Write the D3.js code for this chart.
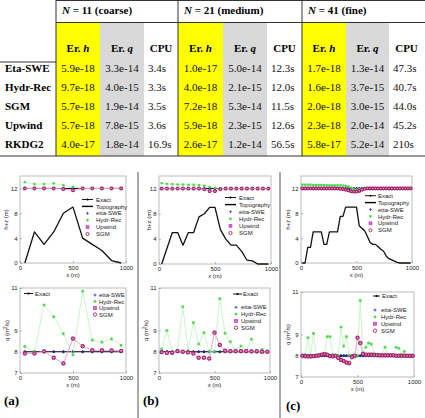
<!DOCTYPE html>
<html><head><meta charset="utf-8">
<script src="https://cdn.jsdelivr.net/npm/d3@7"></script>
<style>
html,body{margin:0;padding:0;background:#fff;}
svg{display:block;}
.serif{font-family:"Liberation Serif","Times New Roman",Times,serif;}
.sans{font-family:"Liberation Sans",Arial,Helvetica,sans-serif;}
</style>
</head><body>
<svg id="fig" width="425" height="418"></svg>
<script>
// ---------------- table data ----------------
const methods = ["Eta-SWE","Hydr-Rec","SGM","Upwind","RKDG2"];
const groupN = ["11","21","41"];
const groupName = ["(coarse)","(medium)","(fine)"];
const erH11 = ["5.9e-18","9.7e-18","5.7e-18","5.7e-18","4.0e-17"];
const erQ11 = ["3.3e-14","4.0e-15","1.9e-14","7.8e-15","1.8e-14"];
const cpu11 = ["3.4s","3.3s","3.5s","3.6s","16.9s"];
const erH21 = ["1.0e-17","4.0e-18","7.2e-18","5.9e-18","2.6e-17"];
const erQ21 = ["5.0e-14","2.1e-15","5.3e-14","2.3e-15","1.2e-14"];
const cpu21 = ["12.3s","12.0s","11.5s","12.6s","56.5s"];
const erH41 = ["1.7e-18","1.6e-18","2.0e-18","2.3e-18","5.8e-17"];
const erQ41 = ["1.3e-14","3.7e-15","3.0e-15","2.0e-14","5.2e-14"];
const cpu41 = ["47.3s","40.7s","44.0s","45.2s","210s"];

// ---------------- chart data ----------------
const xTicks = [0,500,1000];
const hTicks = [0,4,8,12];
const qTicks = [7,8,9,11];
const legendTop = ["Exact","Topography","etta-SWE","Hydr-Rec","Upwind","SGM"];
const legendBot = ["etta-SWE","Hydr-Rec","Upwind","SGM"];

// (a) N = 11
const xA = [45.5,136.4,227.3,318.2,409.1,500,590.9,681.8,772.7,863.6,954.5];
const topoA = [0,5,3,5,8,9,4,3,2,0.4,0];
const hzExactA = [12,12,12,12,12,12,12,12,12,12,12];
const hzEtaA = [12,12,12,12,12,12,12,12,12,12,12];
const hzHydrA = [13.0,12.7,12.7,12.8,12.5,12.25,12,12,12,12,12];
const hzUpA = [12,12,12,12,11.9,11.7,12,12,12,12,12];
const hzSgmA = [12,12,12,12,11.9,11.7,12,12,12,12,12];
const qExactA = [8,8,8,8,8,8,8,8,8,8,8];
const qEtaA = [8,8,8,8,8,8,8,8,8,8,8];
const qHydrA = [8.25,8.0,10.2,9.65,8.85,7.85,10.85,8.55,8.45,8.6,8.3];
const qUpA = [7.92,7.92,8.02,7.72,7.45,8.62,8.26,8.07,8.07,8.06,8.04];
const qSgmA = [7.92,7.92,8.02,7.72,7.45,8.62,8.26,8.07,8.07,8.06,8.04];

// (b) N = 21
const xB = [23.8,71.4,119.0,166.7,214.3,261.9,309.5,357.1,404.8,452.4,500.0,547.6,595.2,642.9,690.5,738.1,785.7,833.3,881.0,928.6,976.2];
const topoB = [0,2.5,5,5,3,5,5,7.5,8,9,9,5.5,4,3,3,2,0.6,0.5,0,0,0];
const hzExactB = [12,12,12,12,12,12,12,12,12,12,12,12,12,12,12,12,12,12,12,12,12];
const hzEtaB = [12,12,12,12,12,12,12,12,12,12,12,12,12,12,12,12,12,12,12,12,12];
const hzHydrB = [12.85,12.75,12.7,12.65,12.65,12.6,12.6,12.55,12.45,12.25,12.1,12,12,12,12,12,12,12,12,12,12];
const hzUpB = [12,12,12,12,12,12,12,12,11.9,11.6,11.6,11.9,12,12,12,12,12,12,12,12,12];
const hzSgmB = [12,12,12,12,12,12,12,12,11.9,11.6,11.6,11.9,12,12,12,12,12,12,12,12,12];
const qExactB = [8,8,8,8,8,8,8,8,8,8,8,8,8,8,8,8,8,8,8,8,8];
const qEtaB = [8,8,8,8,8,8,8,8,8,8,8,8,8,8,8,8,8,8,8,8,8];
const qHydrB = [8.13,9.0,8.0,8.05,10.12,8.05,9.37,8.36,8.9,8.0,8.0,10.5,8.87,8.47,8.05,8.27,8.05,8.59,8.05,8.11,8.0];
const qUpB = [7.98,7.95,7.95,8.03,8.0,7.97,7.92,7.72,7.72,7.68,8.9,8.32,8.05,8.03,8.03,8.03,8.03,8.02,8.02,8.0,8.0];
const qSgmB = [7.98,7.95,7.95,8.03,8.0,7.97,7.92,7.72,7.72,7.68,8.9,8.32,8.05,8.03,8.03,8.03,8.03,8.02,8.02,8.0,8.0];

// (c) N = 41
const xC = [12.2,36.6,61.0,85.4,109.8,134.1,158.5,182.9,207.3,231.7,256.1,280.5,304.9,329.3,353.7,378.0,402.4,426.8,451.2,475.6,500.0,524.4,548.8,573.2,597.6,622.0,646.3,670.7,695.1,719.5,743.9,768.3,792.7,817.1,841.5,865.9,890.2,914.6,939.0,963.4,987.8];
const topoC = [0,0,2.5,2.5,5,5,5,5,3,3,5,5,5,5,7.5,7.5,9,9,9,9,9,6,5.6,5.2,4.3,3.3,3,3,2.6,2.2,1.9,1.1,0.7,0.5,0.3,0.1,0,0,0,0,0];
const hzExactC = [12,12,12,12,12,12,12,12,12,12,12,12,12,12,12,12,12,12,12,12,12,12,12,12,12,12,12,12,12,12,12,12,12,12,12,12,12,12,12,12,12];
const hzEtaC = [12,12,12,12,12,12,12,12,12,12,12,12,12,12,12,12,12,12,12,12,12,12,12,12,12,12,12,12,12,12,12,12,12,12,12,12,12,12,12,12,12];
const hzHydrC = [12.6,12.6,12.6,12.6,12.55,12.55,12.55,12.55,12.55,12.5,12.5,12.5,12.5,12.5,12.5,12.45,12.4,12.3,12.1,11.9,11.8,11.9,12,12,12,12,12,12,12,12,12,12,12,12,12,12,12,12,12,12,12];
const hzUpC = [12,12,12,12,12,12,12,12,12,12,12,12,12,12,11.95,11.9,11.8,11.7,11.55,11.5,11.5,11.6,11.8,11.95,12,12,12,12,12,12,12,12,12,12,12,12,12,12,12,12,12];
const hzSgmC = [12,12,12,12,12,12,12,12,12,12,12,12,12,12,11.95,11.9,11.8,11.7,11.55,11.5,11.5,11.6,11.8,11.95,12,12,12,12,12,12,12,12,12,12,12,12,12,12,12,12,12];
const qExactC = [8,8,8,8,8,8,8,8,8,8,8,8,8,8,8,8,8,8,8,8,8,8,8,8,8,8,8,8,8,8,8,8,8,8,8,8,8,8,8,8,8];
const qEtaC = [8,8,8,8,8,8,8,8,8,8,8,8,8,8,8,8,8,8,8,8,8,8,8,8,8,8,8,8,8,8,8,8,8,8,8,8,8,8,8,8,8];
const qHydrC = [8.0,8.05,8.85,8.0,9.05,8.0,8.0,8.05,8.1,8.9,8.9,8.05,8.0,8.0,9.35,8.45,8.9,8.0,7.9,7.95,8.0,10.6,8.15,8.4,8.6,8.55,8.1,8.05,8.05,8.05,8.4,8.0,8.05,8.0,8.4,8.35,8.05,8.2,8.0,8.0,8.0];
const qUpC = [8.0,7.98,7.97,7.97,7.98,8.0,8.02,8.05,8.08,8.05,7.98,7.97,8.0,7.9,7.8,7.75,7.68,7.65,7.95,8.0,8.85,8.6,8.08,8.05,8.05,8.05,8.03,8.03,8.02,8.02,8.02,8.02,8.02,8.02,8.0,8.0,8.0,8.0,8.0,8.0,8.0];
const qSgmC = [8.0,7.98,7.97,7.97,7.98,8.0,8.02,8.05,8.08,8.05,7.98,7.97,8.0,7.9,7.8,7.75,7.68,7.65,7.95,8.0,8.85,8.6,8.08,8.05,8.05,8.05,8.03,8.03,8.02,8.02,8.02,8.02,8.02,8.02,8.0,8.0,8.0,8.0,8.0,8.0,8.0];

// ---------------- drawing ----------------
const svg = d3.select("#fig");

// ---- table ----
const colL = [56,100,144,178,223,267,302,346,389,424];
const rowY = [68,87,106,125,144];
const tTop = 0.5, tHead = 22.5, tBody = 62, tBot = 156;
const groupVals = [[erH11,erQ11,cpu11],[erH21,erQ21,cpu21],[erH41,erQ41,cpu41]];
const T = svg.append("g");
const stxt = (x, y) => T.append("text").attr("class", "serif").attr("x", x).attr("y", y).attr("font-size", 11);
groupVals.forEach((gv, gi) => {
  const l = colL[gi*3];
  T.append("rect").attr("x", l).attr("y", tHead).attr("width", colL[gi*3+1]-l).attr("height", tBot-tHead).attr("fill", "#ffff00");
  T.append("rect").attr("x", colL[gi*3+1]).attr("y", tHead).attr("width", colL[gi*3+2]-colL[gi*3+1]).attr("height", tBot-tHead).attr("fill", "#d9d9d9");
  const hd = stxt(l+6, 14).attr("font-weight", "bold");
  hd.append("tspan").attr("font-style", "italic").text("N");
  hd.append("tspan").text(" = " + groupN[gi] + " " + groupName[gi]);
  const heads = [["Er. ","h"],["Er. ","q"],["CPU",""]];
  heads.forEach((h, ci) => {
    const cx = (colL[gi*3+ci] + colL[gi*3+ci+1]) / 2;
    const t = stxt(cx, 52).attr("text-anchor", "middle").attr("font-weight", "bold");
    t.append("tspan").text(h[0]);
    if (h[1]) t.append("tspan").attr("font-style", "italic").text(h[1]);
  });
  gv.forEach((vals, ci) => {
    vals.forEach((v, ri) => {
      const t = stxt(0, rowY[ri]+4).attr("fill", "#111").text(v);
      if (ci < 2) t.attr("x", (colL[gi*3+ci] + colL[gi*3+ci+1]) / 2).attr("text-anchor", "middle");
      else t.attr("x", colL[gi*3+ci] + 4);
    });
  });
});
methods.forEach((m, ri) => stxt(5, rowY[ri]+4).attr("font-weight", "bold").text(m));
const tl = (x1,y1,x2,y2) => T.append("line").attr("x1",x1).attr("y1",y1).attr("x2",x2).attr("y2",y2).attr("stroke","#333").attr("stroke-width",1);
tl(56, tTop, 425, tTop);
tl(56, tHead, 425, tHead);
tl(0, tBody, 56, tBody);
tl(0, tBot, 425, tBot);
[56,178,302].forEach(x => tl(x, 0, x, tBot));

// ---- chart helpers ----
function symPath(kind, s) {
  if (kind === "plus") return `M${-s},0H${s}M0,${-s}V${s}`;
  if (kind === "star") { const d = s*0.72; return `M${-s},0H${s}M0,${-s}V${s}M${-d},${-d}L${d},${d}M${-d},${d}L${d},${-d}`; }
  if (kind === "square") return `M${-s},${-s}H${s}V${s}H${-s}Z`;
  return d3.symbol().type(d3.symbolCircle).size(Math.PI*s*s)();
}
const STY = {
  "Exact":    {kind:"dot"},
  "etta-SWE": {kind:"plus", stroke:"#3030c8", fill:"none", line:null},
  "Hydr-Rec": {kind:"star", stroke:"#3cd43c", fill:"none", line:"#b4efb4", lw:0.7},
  "Upwind":   {kind:"square", stroke:"#c23ac2", fill:"#d070d0", line:"#eab0e6", lw:0.7},
  "SGM":      {kind:"circle", stroke:"#94163e", fill:"none", line:"#e4a0c0", lw:0.7}
};

function drawMarker(g, name, cx, cy, s) {
  const st = STY[name];
  if (st.kind === "dot") {
    g.append("circle").attr("cx", cx).attr("cy", cy).attr("r", s*0.7).attr("fill", "#000");
  } else {
    g.append("path").attr("d", symPath(st.kind, s)).attr("transform", `translate(${cx},${cy})`)
      .attr("fill", st.fill).attr("stroke", st.stroke).attr("stroke-width", 0.8);
  }
}

function drawSeries(g, x, y, xs, ys, name, s) {
  const st = STY[name];
  const pts = xs.map((v, i) => [x(v), y(ys[i])]);
  if (st.line) g.append("path").attr("d", d3.line()(pts)).attr("fill", "none").attr("stroke", st.line).attr("stroke-width", st.lw);
  pts.forEach(p => drawMarker(g, name, p[0], p[1], s));
}

function frame(box, yDom, yTicks, ylab, ylabX, isQ) {
  const x = d3.scaleLinear().domain([0,1000]).range([box.x0, box.x1]);
  const y = d3.scaleLinear().domain(yDom).range([box.yb, box.yt]);
  const g = svg.append("g");
  g.append("rect").attr("x", box.x0).attr("y", box.yt).attr("width", box.x1-box.x0).attr("height", box.yb-box.yt)
    .attr("fill", "none").attr("stroke", "#a0a0a0").attr("stroke-width", 0.7);
  const xa = g.append("g").attr("transform", `translate(0,${box.yb})`)
    .call(d3.axisBottom(x).tickValues(xTicks).tickFormat(d3.format("d")).tickSizeInner(-2).tickSizeOuter(0).tickPadding(2.5));
  const ya = g.append("g").attr("transform", `translate(${box.x0},0)`)
    .call(d3.axisLeft(y).tickValues(yTicks).tickFormat(d3.format("d")).tickSizeInner(-2).tickSizeOuter(0).tickPadding(2.5));
  [xa, ya].forEach(a => {
    a.select(".domain").remove();
    a.selectAll(".tick line").attr("stroke", "#888").attr("stroke-width", 0.6);
    a.selectAll("text").attr("class", "sans").attr("font-family", null).attr("font-size", 6).attr("fill", "#222");
  });
  g.append("text").attr("class", "sans").attr("x", (box.x0+box.x1)/2).attr("y", box.yb+14).attr("text-anchor", "middle")
    .attr("font-size", 6).attr("fill", "#222").text("x (m)");
  const yl = g.append("text").attr("class", "sans").attr("transform", `translate(${ylabX},${(box.yt+box.yb)/2}) rotate(-90)`)
    .attr("text-anchor", "middle").attr("font-size", 6).attr("fill", "#222");
  if (isQ) {
    yl.append("tspan").text("q (m");
    yl.append("tspan").attr("dy", -2.5).attr("font-size", 4.5).text("2");
    yl.append("tspan").attr("dy", 2.5).text("/s)");
  } else yl.text(ylab);
  return {g, x, y};
}

function legendRow(g, name, sx0, sx1, tx, ty, s) {
  if (name === "Exact") {
    g.append("line").attr("x1", sx0).attr("x2", sx1).attr("y1", ty).attr("y2", ty).attr("stroke", "#000").attr("stroke-width", 0.9);
    drawMarker(g, name, (sx0+sx1)/2, ty, s);
  } else if (name === "Topography") {
    g.append("line").attr("x1", sx0).attr("x2", sx1).attr("y1", ty).attr("y2", ty).attr("stroke", "#000").attr("stroke-width", 1.4);
  } else {
    drawMarker(g, name, (sx0+sx1)/2, ty, s);
  }
  g.append("text").attr("class", "sans").attr("x", tx).attr("y", ty).attr("dy", "0.35em").attr("font-size", 6).attr("fill", "#222").text(name);
}

const PANELS = [
  {xs:xA, topo:topoA, hz:[hzExactA,hzEtaA,hzHydrA,hzUpA,hzSgmA], q:[qExactA,qEtaA,qHydrA,qUpA,qSgmA],
   top:{x0:20,x1:126,yb:263,yt:176}, bot:{x0:20,x1:126,yb:373,yt:288}, ylx:[8,9],
   lt:{sx0:82,sx1:93,tx:96,y0:199.5,dy:6.9}, lbE:{sx0:24,sx1:33,tx:35,y:293.5}, lb:{mx:95,tx:99,y0:295,dy:6.5},
   label:"(a)", lx:4, ly:405},
  {xs:xB, topo:topoB, hz:[hzExactB,hzEtaB,hzHydrB,hzUpB,hzSgmB], q:[qExactB,qEtaB,qHydrB,qUpB,qSgmB],
   top:{x0:159,x1:271,yb:264,yt:176}, bot:{x0:159,x1:270,yb:373,yt:288}, ylx:[151,148],
   lt:{sx0:225,sx1:236,tx:239,y0:197.5,dy:7.1}, lbE:{sx0:233,sx1:242,tx:243,y:294}, lb:{mx:236,tx:241,y0:307.3,dy:6.8},
   label:"(b)", lx:143, ly:405},
  {xs:xC, topo:topoC, hz:[hzExactC,hzEtaC,hzHydrC,hzUpC,hzSgmC], q:[qExactC,qEtaC,qHydrC,qUpC,qSgmC],
   top:{x0:301,x1:412,yb:263,yt:176}, bot:{x0:301,x1:414,yb:377,yt:292}, ylx:[290,290],
   lt:{sx0:365,sx1:376,tx:378,y0:195.7,dy:6.9}, lbE:{sx0:373,sx1:380,tx:382,y:296}, lb:{mx:375,tx:381,y0:310,dy:6.9},
   label:"(c)", lx:286, ly:410}
];
const numNames = ["etta-SWE","Hydr-Rec","Upwind","SGM"];

PANELS.forEach(P => {
  const A = frame(P.top, [0,14], hTicks, "h+z (m)", P.ylx[0], false);
  const ex = P.xs.map((v,i) => [A.x(v), A.y(P.hz[0][i])]);
  A.g.append("path").attr("d", d3.line()(ex)).attr("fill","none").attr("stroke","#000").attr("stroke-width",1);
  ex.forEach(p => drawMarker(A.g, "Exact", p[0], p[1], 1.6));
  const tp = P.xs.map((v,i) => [A.x(v), A.y(P.topo[i])]);
  A.g.append("path").attr("d", d3.line()(tp)).attr("fill","none").attr("stroke","#111").attr("stroke-width",1.3).attr("stroke-linejoin","round");
  drawSeries(A.g, A.x, A.y, P.xs, P.hz[1], "etta-SWE", 1.4);
  drawSeries(A.g, A.x, A.y, P.xs, P.hz[2], "Hydr-Rec", 1.4);
  drawSeries(A.g, A.x, A.y, P.xs, P.hz[3], "Upwind", 1.2);
  drawSeries(A.g, A.x, A.y, P.xs, P.hz[4], "SGM", 1.5);
  legendTop.forEach((nm, i) => legendRow(A.g, nm, P.lt.sx0, P.lt.sx1, P.lt.tx, P.lt.y0 + i*P.lt.dy, nm==="SGM"?1.6:1.4));

  const B = frame(P.bot, [7,11], qTicks, "q", P.ylx[1], true);
  const eq = P.xs.map((v,i) => [B.x(v), B.y(P.q[0][i])]);
  B.g.append("path").attr("d", d3.line()(eq)).attr("fill","none").attr("stroke","#000").attr("stroke-width",1);
  eq.forEach(p => drawMarker(B.g, "Exact", p[0], p[1], 1.8));
  drawSeries(B.g, B.x, B.y, P.xs, P.q[1], "etta-SWE", 1.6);
  drawSeries(B.g, B.x, B.y, P.xs, P.q[2], "Hydr-Rec", 1.6);
  drawSeries(B.g, B.x, B.y, P.xs, P.q[3], "Upwind", 1.4);
  drawSeries(B.g, B.x, B.y, P.xs, P.q[4], "SGM", 1.7);
  legendRow(B.g, "Exact", P.lbE.sx0, P.lbE.sx1, P.lbE.tx, P.lbE.y, 1.6);
  numNames.forEach((nm, i) => {
    const ty = P.lb.y0 + i*P.lb.dy;
    drawMarker(B.g, nm, P.lb.mx, ty, nm==="SGM"?1.7:1.5);
    B.g.append("text").attr("class", "sans").attr("x", P.lb.tx).attr("y", ty).attr("dy","0.35em").attr("font-size", 6).attr("fill","#222").text(nm);
  });

  svg.append("text").attr("class", "serif").attr("x", P.lx).attr("y", P.ly).attr("font-size", 13).attr("font-weight","bold").text(P.label);
});

[138, 280].forEach(x => svg.append("line").attr("x1", x).attr("x2", x).attr("y1", 172).attr("y2", 418).attr("stroke", "#555").attr("stroke-width", 1));
</script>
</body></html>
